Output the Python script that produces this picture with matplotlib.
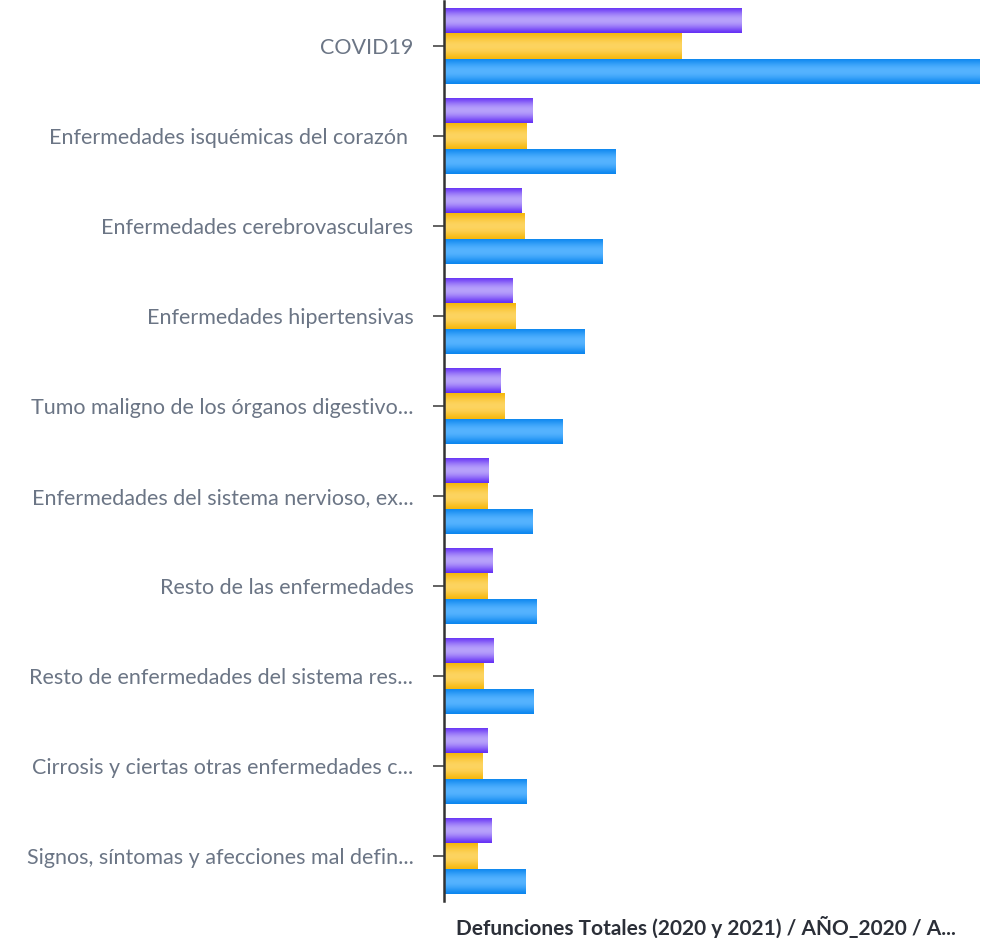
import matplotlib
matplotlib.use('Agg')
import matplotlib.pyplot as plt
import numpy as np
from matplotlib.colors import to_rgb

categories = [
    "COVID19",
    "Enfermedades isquémicas del corazón ",
    "Enfermedades cerebrovasculares",
    "Enfermedades hipertensivas",
    "Tumo maligno de los órganos digestivo...",
    "Enfermedades del sistema nervioso, ex...",
    "Resto de las enfermedades",
    "Resto de enfermedades del sistema res...",
    "Cirrosis y ciertas otras enfermedades c...",
    "Signos, síntomas y afecciones mal defin...",
]
anio_2021 = [74250, 22100, 19330, 17180, 14250, 11180, 12180, 12430, 10930, 11900]
anio_2020 = [59350, 20580, 20180, 17830, 15250, 10830, 10830, 10000, 9680, 8380]
totales = [134000, 42800, 39500, 35080, 29580, 22000, 23080, 22330, 20680, 20400]
title = "Defunciones Totales (2020 y 2021) / AÑO_2020 / A..."

W, H = 987, 938
fig = plt.figure(figsize=(W / 100, H / 100), dpi=100)
ax = fig.add_axes([444 / W, 1 - 901 / H, 536 / W, 900 / H])

y = np.arange(len(categories))
h = 0.283
t = np.linspace(0, 1, 80)
f = np.sin(np.pi * t) ** 1.3

series = [
    (anio_2021, -h, "#6530f5", "#b7a1fb"),
    (anio_2020, 0.0, "#f6b80c", "#fdd460"),
    (totales, h, "#0b86ef", "#55b3ff"),
]
for vals, off, edge, mid in series:
    e = np.array(to_rgb(edge))
    m = np.array(to_rgb(mid))
    grad = e[None, :] + (m - e)[None, :] * f[:, None]
    grad = grad[:, None, :]
    bars = ax.barh(y + off, vals, height=h, color="none", edgecolor="none")
    for b in bars:
        x0, y0, w, hh = b.get_x(), b.get_y(), b.get_width(), b.get_height()
        im = ax.imshow(grad, extent=(x0, x0 + w, y0 + hh, y0), origin="upper",
                       aspect="auto", zorder=2, interpolation="bilinear")
        im.set_clip_path(b)

ax.set_xlim(0, max(totales))
ax.set_ylim(len(categories) - 0.5, -0.5)
ax.set_aspect("auto")

ax.set_yticks(y)
ax.set_yticklabels(categories, fontsize=15.5, color="#6b7585", family=["Lato", "DejaVu Sans"])
ax.tick_params(axis="y", length=8, width=1.3, color="#555555", pad=14)
ax.set_xticks([])
for s in ["top", "right", "bottom"]:
    ax.spines[s].set_visible(False)
ax.spines["left"].set_color("#333333")
ax.spines["left"].set_linewidth(1.8)
ax.spines["left"].set_zorder(5)

fig.text(706 / W, 1 - 927 / H, title, ha="center", va="center", fontsize=15,
         fontweight="bold", color="#2b2f38", family=["Lato", "DejaVu Sans"])

fig.savefig("out.png", dpi=100)
